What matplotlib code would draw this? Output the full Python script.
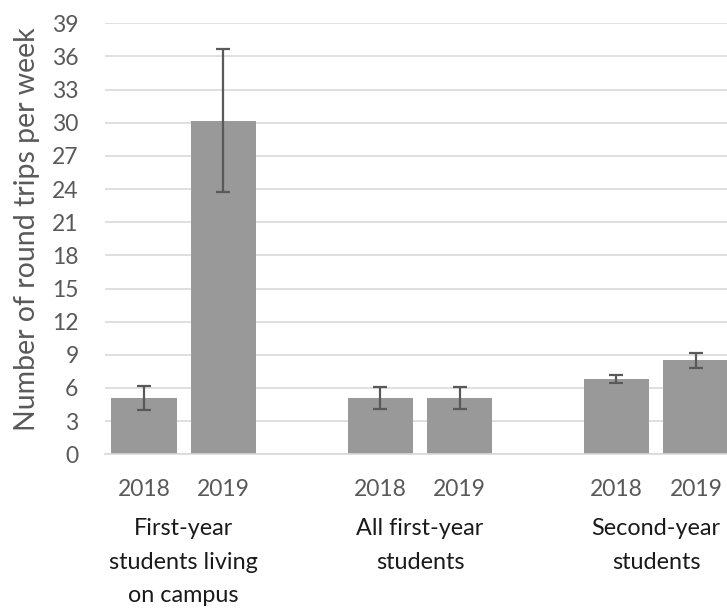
import matplotlib.pyplot as plt
import numpy as np
from matplotlib.transforms import blended_transform_factory

groups = ["First-year\nstudents living\non campus", "All first-year\nstudents", "Second-year\nstudents"]
years = ["2018", "2019"]
trips = [[5.1, 30.2], [5.1, 5.1], [6.8, 8.5]]
errors = [[1.05, 6.45], [1.0, 1.0], [0.33, 0.7]]
y_ticks = list(range(0, 40, 3))

plt.rcParams["font.family"] = ["Lato", "DejaVu Sans"]
text_color = "#595959"

fig = plt.figure(figsize=(7.27, 6.10), dpi=100)
ax = fig.add_axes([0.1444, 0.2553, 0.8556, 0.7065])

group_step = 2.97
bar_w = 0.82
xs, labels = [], []
for g, (vals, errs) in enumerate(zip(trips, errors)):
    pos = g * group_step + np.arange(len(years))
    ax.bar(pos, vals, width=bar_w, color="#999999", zorder=2)
    ax.errorbar(pos, vals, yerr=errs, fmt="none", ecolor="#595959",
                elinewidth=1.6, capsize=5, capthick=1.6, zorder=3)
    xs.extend(pos)
    labels.extend(years)

ax.set_ylim(0, 39)
ax.set_xlim(-0.49, 7.33)
ax.set_yticks(y_ticks)
ax.set_xticks(xs)
ax.set_xticklabels(labels)
ax.tick_params(axis="both", length=0, labelsize=16.5, colors=text_color)
ax.tick_params(axis="x", pad=18)
ax.tick_params(axis="y", pad=19)
ax.grid(axis="y", color="#d9d9d9", linewidth=1.2, zorder=0)
for side in ["top", "right", "left"]:
    ax.spines[side].set_visible(False)
ax.spines["bottom"].set_color("#d9d9d9")
ax.spines["bottom"].set_linewidth(1.2)

# group names sit under each pair of bars, Excel multi-level style
trans = blended_transform_factory(ax.transData, fig.transFigure)
for g, name in enumerate(groups):
    ax.text(g * group_step + 0.5, 1 - 518 / 610, name, transform=trans,
            ha="center", va="top", fontsize=16.8, color="#1a1a1a", linespacing=1.74)

fig.text(0.037, 0.625, "Number of round trips per week", rotation=90,
         ha="center", va="center", fontsize=20.5, color=text_color)

fig.savefig("out.png", dpi=100)
